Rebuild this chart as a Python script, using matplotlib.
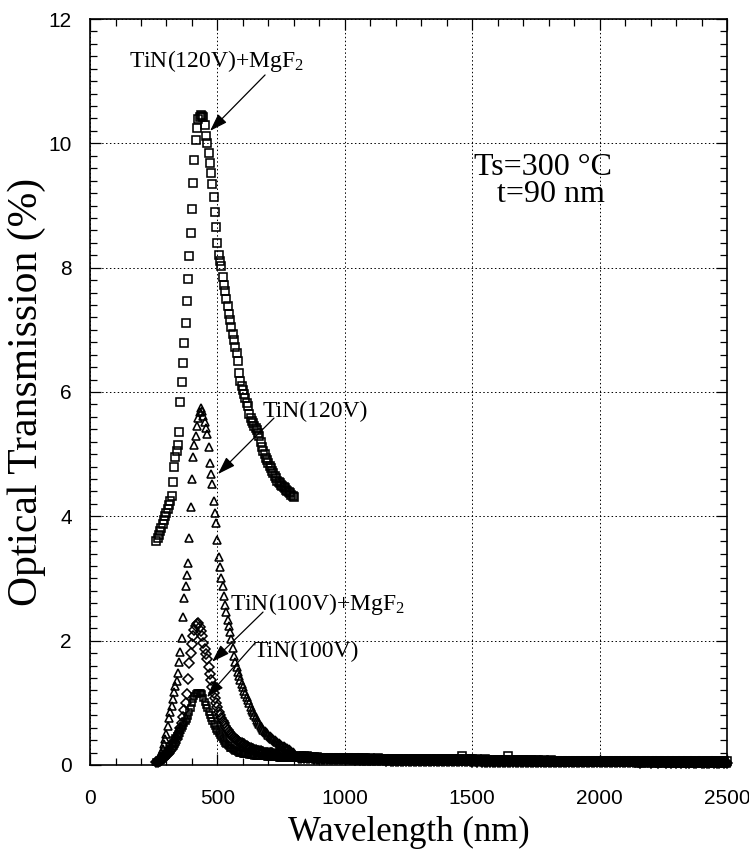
import numpy as np
import matplotlib
matplotlib.use('Agg')
import matplotlib.pyplot as plt
from matplotlib.ticker import MultipleLocator

plt.rcParams['font.family'] = ['Liberation Serif', 'DejaVu Serif']
plt.rcParams['mathtext.fontset'] = 'custom'
plt.rcParams['mathtext.rm'] = 'Liberation Serif'
plt.rcParams['mathtext.it'] = 'Liberation Serif:italic'

# visible range, 5 nm step (UV-VIS detector)
wl_vis = np.arange(260, 801, 5)
# near infrared range, 10 nm step
wl_nir = np.arange(820, 2501, 10)

# TiN(120V)+MgF2
t120_mgf2_vis = [3.60, 3.65, 3.70, 3.76, 3.82, 3.88, 3.94, 4.00, 4.06, 4.12,
	4.19, 4.25, 4.33, 4.55, 4.80, 4.95, 5.05, 5.15, 5.35, 5.84,
	6.16, 6.46, 6.79, 7.11, 7.46, 7.81, 8.18, 8.55, 8.95, 9.37,
	9.73, 10.06, 10.25, 10.39, 10.43, 10.45, 10.44, 10.42, 10.30, 10.11,
	10.00, 9.85, 9.68, 9.53, 9.34, 9.13, 8.90, 8.65, 8.40, 8.21,
	8.10, 8.02, 7.85, 7.72, 7.62, 7.50, 7.38, 7.26, 7.16, 7.04,
	6.93, 6.83, 6.72, 6.62, 6.50, 6.30, 6.18, 6.10, 6.04, 5.96,
	5.90, 5.83, 5.77, 5.64, 5.58, 5.53, 5.50, 5.46, 5.42, 5.39,
	5.34, 5.29, 5.20, 5.11, 5.05, 5.00, 4.94, 4.90, 4.85, 4.81,
	4.77, 4.73, 4.69, 4.65, 4.61, 4.57, 4.55, 4.53, 4.51, 4.49,
	4.47, 4.45, 4.43, 4.41, 4.39, 4.37, 4.35, 4.33, 4.31]
t120_mgf2_nir = [0.15, 0.14, 0.14, 0.14, 0.13, 0.13, 0.13, 0.13, 0.12, 0.12,
	0.12, 0.12, 0.12, 0.12, 0.12, 0.11, 0.12, 0.11, 0.11, 0.11,
	0.11, 0.11, 0.11, 0.11, 0.11, 0.11, 0.11, 0.10, 0.11, 0.10,
	0.10, 0.11, 0.10, 0.10, 0.10, 0.10, 0.10, 0.10, 0.10, 0.10,
	0.10, 0.10, 0.10, 0.10, 0.09, 0.10, 0.10, 0.09, 0.10, 0.09,
	0.09, 0.09, 0.09, 0.10, 0.09, 0.09, 0.09, 0.09, 0.09, 0.09,
	0.09, 0.09, 0.09, 0.09, 0.15, 0.09, 0.09, 0.09, 0.09, 0.08,
	0.09, 0.08, 0.08, 0.09, 0.08, 0.08, 0.08, 0.08, 0.08, 0.08,
	0.08, 0.08, 0.15, 0.08, 0.08, 0.08, 0.08, 0.08, 0.08, 0.08,
	0.08, 0.08, 0.07, 0.08, 0.08, 0.07, 0.08, 0.07, 0.07, 0.08,
	0.07, 0.07, 0.07, 0.07, 0.07, 0.07, 0.07, 0.07, 0.07, 0.07,
	0.07, 0.07, 0.07, 0.07, 0.07, 0.06, 0.07, 0.07, 0.06, 0.07,
	0.07, 0.06, 0.06, 0.07, 0.06, 0.06, 0.06, 0.06, 0.06, 0.06,
	0.06, 0.06, 0.06, 0.06, 0.06, 0.06, 0.06, 0.06, 0.06, 0.06,
	0.06, 0.06, 0.06, 0.06, 0.06, 0.06, 0.06, 0.06, 0.06, 0.06,
	0.06, 0.06, 0.06, 0.06, 0.06, 0.06, 0.06, 0.06, 0.07, 0.06,
	0.06, 0.06, 0.06, 0.06, 0.06, 0.06, 0.06, 0.06, 0.07]

# TiN(120V)
t120_vis = [0.06, 0.08, 0.11, 0.15, 0.20, 0.26, 0.33, 0.41, 0.50, 0.63,
	0.76, 0.86, 0.95, 1.06, 1.17, 1.27, 1.35, 1.48, 1.66, 1.82,
	2.05, 2.38, 2.68, 2.88, 3.05, 3.25, 3.65, 4.15, 4.60, 4.95,
	5.15, 5.30, 5.45, 5.58, 5.68, 5.74, 5.70, 5.62, 5.52, 5.42,
	5.32, 5.12, 4.86, 4.68, 4.52, 4.25, 4.05, 3.90, 3.62, 3.35,
	3.19, 3.00, 2.88, 2.72, 2.58, 2.46, 2.34, 2.24, 2.14, 2.02,
	1.88, 1.76, 1.66, 1.58, 1.50, 1.43, 1.37, 1.31, 1.25, 1.19,
	1.14, 1.09, 1.04, 0.99, 0.94, 0.89, 0.85, 0.81, 0.77, 0.73,
	0.69, 0.66, 0.63, 0.60, 0.57, 0.55, 0.53, 0.51, 0.49, 0.47,
	0.45, 0.43, 0.41, 0.40, 0.38, 0.37, 0.35, 0.34, 0.32, 0.31,
	0.30, 0.29, 0.28, 0.27, 0.25, 0.24, 0.22, 0.21, 0.20]
t120_nir = [0.13, 0.13, 0.12, 0.12, 0.12, 0.12, 0.11, 0.11, 0.11, 0.11,
	0.11, 0.11, 0.10, 0.11, 0.10, 0.10, 0.10, 0.10, 0.10, 0.10,
	0.10, 0.10, 0.09, 0.10, 0.09, 0.09, 0.09, 0.09, 0.09, 0.09,
	0.09, 0.09, 0.09, 0.09, 0.09, 0.08, 0.09, 0.08, 0.08, 0.08,
	0.08, 0.08, 0.08, 0.08, 0.08, 0.08, 0.08, 0.08, 0.08, 0.07,
	0.08, 0.07, 0.08, 0.07, 0.07, 0.07, 0.07, 0.07, 0.07, 0.07,
	0.07, 0.07, 0.07, 0.07, 0.07, 0.07, 0.07, 0.07, 0.07, 0.07,
	0.07, 0.07, 0.06, 0.07, 0.06, 0.07, 0.06, 0.06, 0.06, 0.06,
	0.06, 0.06, 0.06, 0.06, 0.06, 0.06, 0.06, 0.06, 0.06, 0.06,
	0.06, 0.06, 0.06, 0.06, 0.06, 0.05, 0.06, 0.06, 0.05, 0.06,
	0.05, 0.06, 0.05, 0.05, 0.05, 0.05, 0.05, 0.05, 0.05, 0.05,
	0.05, 0.05, 0.05, 0.05, 0.05, 0.05, 0.05, 0.05, 0.05, 0.05,
	0.05, 0.05, 0.05, 0.05, 0.05, 0.05, 0.05, 0.05, 0.05, 0.05,
	0.05, 0.05, 0.05, 0.04, 0.05, 0.05, 0.05, 0.04, 0.05, 0.05,
	0.05, 0.04, 0.05, 0.05, 0.04, 0.05, 0.04, 0.05, 0.04, 0.05,
	0.04, 0.05, 0.04, 0.04, 0.05, 0.04, 0.04, 0.05, 0.04, 0.04,
	0.04, 0.05, 0.04, 0.04, 0.05, 0.04, 0.04, 0.04, 0.05]

# TiN(100V)+MgF2
t100_mgf2_vis = [0.04, 0.05, 0.06, 0.07, 0.08, 0.10, 0.12, 0.14, 0.16, 0.18,
	0.20, 0.23, 0.26, 0.29, 0.32, 0.36, 0.41, 0.46, 0.52, 0.60,
	0.67, 0.77, 0.89, 1.00, 1.14, 1.38, 1.64, 1.80, 1.95, 2.08,
	2.17, 2.23, 2.27, 2.28, 2.22, 2.15, 2.08, 1.96, 1.87, 1.79,
	1.70, 1.58, 1.47, 1.36, 1.26, 1.16, 1.07, 0.99, 0.93, 0.86,
	0.80, 0.75, 0.71, 0.67, 0.63, 0.59, 0.56, 0.53, 0.50, 0.48,
	0.46, 0.44, 0.42, 0.40, 0.38, 0.37, 0.36, 0.35, 0.34, 0.33,
	0.31, 0.30, 0.29, 0.28, 0.27, 0.26, 0.25, 0.24, 0.24, 0.23,
	0.23, 0.22, 0.22, 0.21, 0.21, 0.20, 0.20, 0.20, 0.19, 0.19,
	0.19, 0.19, 0.18, 0.18, 0.18, 0.18, 0.17, 0.17, 0.17, 0.17,
	0.17, 0.16, 0.16, 0.16, 0.16, 0.16, 0.16, 0.16, 0.16]
t100_mgf2_nir = [0.12, 0.12, 0.11, 0.11, 0.11, 0.11, 0.10, 0.10, 0.10, 0.10,
	0.10, 0.10, 0.09, 0.09, 0.09, 0.09, 0.09, 0.09, 0.09, 0.09,
	0.09, 0.09, 0.08, 0.09, 0.08, 0.08, 0.08, 0.08, 0.08, 0.08,
	0.08, 0.08, 0.08, 0.08, 0.07, 0.08, 0.07, 0.07, 0.07, 0.07,
	0.07, 0.07, 0.07, 0.07, 0.07, 0.07, 0.07, 0.07, 0.07, 0.06,
	0.07, 0.06, 0.06, 0.06, 0.06, 0.06, 0.06, 0.06, 0.06, 0.06,
	0.06, 0.06, 0.06, 0.06, 0.06, 0.06, 0.06, 0.06, 0.05, 0.06,
	0.05, 0.06, 0.05, 0.05, 0.05, 0.05, 0.05, 0.05, 0.05, 0.05,
	0.05, 0.05, 0.05, 0.05, 0.05, 0.05, 0.05, 0.05, 0.05, 0.05,
	0.05, 0.05, 0.05, 0.04, 0.05, 0.05, 0.04, 0.05, 0.04, 0.05,
	0.04, 0.04, 0.05, 0.04, 0.04, 0.04, 0.04, 0.04, 0.04, 0.04,
	0.04, 0.04, 0.04, 0.04, 0.04, 0.04, 0.04, 0.04, 0.04, 0.04,
	0.04, 0.04, 0.04, 0.04, 0.04, 0.04, 0.04, 0.04, 0.04, 0.04,
	0.04, 0.04, 0.04, 0.04, 0.03, 0.04, 0.04, 0.04, 0.03, 0.04,
	0.04, 0.03, 0.04, 0.04, 0.03, 0.04, 0.03, 0.04, 0.03, 0.04,
	0.03, 0.04, 0.03, 0.03, 0.04, 0.03, 0.03, 0.04, 0.03, 0.03,
	0.03, 0.03, 0.04, 0.03, 0.03, 0.03, 0.04, 0.03, 0.03]

# TiN(100V)
t100_vis = [0.04, 0.05, 0.07, 0.08, 0.10, 0.12, 0.14, 0.17, 0.20, 0.23,
	0.26, 0.30, 0.33, 0.36, 0.40, 0.43, 0.47, 0.50, 0.54, 0.57,
	0.60, 0.63, 0.67, 0.70, 0.74, 0.79, 0.85, 0.92, 1.00, 1.06,
	1.11, 1.14, 1.16, 1.16, 1.16, 1.15, 1.14, 1.08, 1.02, 0.97,
	0.91, 0.86, 0.80, 0.75, 0.71, 0.66, 0.62, 0.58, 0.55, 0.51,
	0.48, 0.45, 0.42, 0.39, 0.36, 0.34, 0.32, 0.30, 0.28, 0.27,
	0.25, 0.24, 0.23, 0.22, 0.21, 0.20, 0.19, 0.19, 0.18, 0.18,
	0.17, 0.17, 0.17, 0.16, 0.16, 0.16, 0.16, 0.15, 0.15, 0.15,
	0.15, 0.14, 0.14, 0.14, 0.14, 0.14, 0.14, 0.13, 0.13, 0.13,
	0.13, 0.13, 0.13, 0.13, 0.13, 0.13, 0.12, 0.12, 0.12, 0.12,
	0.12, 0.12, 0.12, 0.12, 0.12, 0.12, 0.12, 0.12, 0.12]
t100_nir = [0.11, 0.11, 0.10, 0.10, 0.10, 0.10, 0.09, 0.09, 0.09, 0.09,
	0.09, 0.09, 0.08, 0.08, 0.08, 0.08, 0.08, 0.08, 0.08, 0.08,
	0.08, 0.07, 0.08, 0.07, 0.07, 0.07, 0.07, 0.07, 0.07, 0.07,
	0.07, 0.07, 0.07, 0.06, 0.07, 0.06, 0.06, 0.06, 0.06, 0.06,
	0.06, 0.06, 0.06, 0.06, 0.06, 0.06, 0.06, 0.05, 0.06, 0.05,
	0.05, 0.05, 0.05, 0.05, 0.05, 0.05, 0.05, 0.05, 0.05, 0.05,
	0.05, 0.05, 0.05, 0.05, 0.05, 0.04, 0.05, 0.04, 0.05, 0.04,
	0.04, 0.04, 0.04, 0.04, 0.04, 0.04, 0.04, 0.04, 0.04, 0.04,
	0.04, 0.04, 0.04, 0.04, 0.04, 0.04, 0.04, 0.04, 0.04, 0.04,
	0.04, 0.03, 0.04, 0.04, 0.03, 0.04, 0.03, 0.04, 0.03, 0.03,
	0.03, 0.03, 0.03, 0.03, 0.03, 0.03, 0.03, 0.03, 0.03, 0.03,
	0.03, 0.03, 0.03, 0.03, 0.03, 0.03, 0.03, 0.03, 0.03, 0.03,
	0.03, 0.03, 0.03, 0.03, 0.03, 0.03, 0.03, 0.03, 0.03, 0.03,
	0.03, 0.03, 0.03, 0.02, 0.03, 0.03, 0.02, 0.03, 0.03, 0.02,
	0.03, 0.02, 0.03, 0.02, 0.03, 0.02, 0.02, 0.03, 0.02, 0.02,
	0.02, 0.03, 0.02, 0.02, 0.02, 0.03, 0.02, 0.02, 0.02, 0.02,
	0.02, 0.02, 0.02, 0.03, 0.02, 0.02, 0.02, 0.02, 0.02]

fig = plt.figure(figsize=(7.49, 8.64), dpi=100)
ax = fig.add_axes([0.1202, 0.1146, 0.8504, 0.8634])

def plot_series(vis, nir, marker, size):
	# both detector ranges drawn as open black markers, no line
	wl = np.concatenate([wl_vis, wl_nir])
	tr = np.concatenate([vis, nir])
	ax.plot(wl, tr, linestyle='none', marker=marker, markersize=size,
		markerfacecolor='none', markeredgecolor='k', markeredgewidth=1.15,
		clip_on=False)

plot_series(t100_vis, t100_nir, 's', 5.0)
plot_series(t100_mgf2_vis, t100_mgf2_nir, 'D', 4.6)
plot_series(t120_vis, t120_nir, '^', 5.6)
plot_series(t120_mgf2_vis, t120_mgf2_nir, 's', 5.4)

ax.set_xlim(0, 2500)
ax.set_ylim(0, 12)
ax.xaxis.set_major_locator(MultipleLocator(500))
ax.xaxis.set_minor_locator(MultipleLocator(100))
ax.yaxis.set_major_locator(MultipleLocator(2))
ax.yaxis.set_minor_locator(MultipleLocator(0.2))
ax.tick_params(which='both', direction='in', top=True, right=True, width=0.9)
ax.tick_params(which='major', length=8)
ax.tick_params(which='minor', length=5)
ax.tick_params(axis='x', pad=17)
ax.tick_params(axis='y', pad=13)
for lbl in ax.get_xticklabels() + ax.get_yticklabels():
	lbl.set_fontfamily('Liberation Sans')
	lbl.set_fontsize(15)
for sp in ax.spines.values():
	sp.set_linewidth(1.2)

ax.grid(True, which='major', linestyle=(0, (1.5, 2.5)), color='k', linewidth=0.7)

ax.set_xlabel('Wavelength (nm)', fontsize=25, labelpad=6)
ax.set_ylabel('Optical Transmission (%)', fontsize=30, labelpad=2)

# sample labels with arrows
lab_size = 17
ax.text(153, 11.23, 'TiN(120V)+MgF$_2$', fontsize=lab_size, va='baseline')
ax.text(679, 5.60, 'TiN(120V)', fontsize=lab_size, va='baseline')
ax.text(549, 2.49, 'TiN(100V)+MgF$_2$', fontsize=lab_size, va='baseline')
ax.text(640, 1.74, 'TiN(100V)', fontsize=lab_size, va='baseline')

arrows = [((687, 11.10), (471, 10.2)),
	((722, 5.58), (502, 4.68)),
	((679, 2.46), (479, 1.66)),
	((647, 1.96), (459, 1.09))]
for tail, head in arrows:
	ax.annotate('', xy=head, xytext=tail,
		arrowprops=dict(arrowstyle='-|>,head_length=0.9,head_width=0.3',
			color='k', lw=0.9, mutation_scale=12, shrinkA=0, shrinkB=0))

# deposition conditions
ax.text(1778, 9.49, 'Ts=300 °C', fontsize=23, ha='center', va='baseline')
ax.text(1809, 9.06, 't=90 nm', fontsize=23, ha='center', va='baseline')

plt.savefig('out.png', dpi=100)
